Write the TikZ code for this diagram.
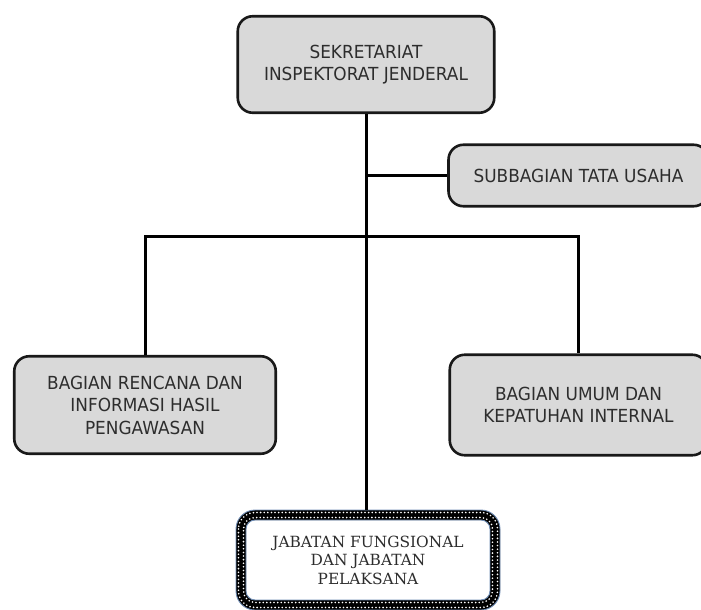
\documentclass[tikz,border=0pt]{standalone}
\usepackage{fontspec}
\setmainfont{DejaVu Sans}[FakeStretch=0.94]
\newfontfamily\serf{DejaVu Serif}
\usetikzlibrary{calc}
\definecolor{boxgray}{RGB}{217,217,217}
\definecolor{txt}{RGB}{45,45,45}
\definecolor{edgeblue}{RGB}{110,140,180}
\tikzset{
  unit/.style={draw=black!90, line width=2.6pt, fill=boxgray, rounded corners=15pt,
    text=txt, align=center, inner sep=0pt, font=\fontsize{18}{22.5}\selectfont},
  link/.style={line width=3pt, black},
  dots/.style={white, line width=1.8pt, line cap=round, dash pattern=on 0pt off 3.6pt},
}
\begin{document}
\begin{tikzpicture}[x=1pt,y=-1pt]
\useasboundingbox (0,0) rectangle (701,610);
\clip (0,0) rectangle (701,610);
\node[unit, minimum width=256.5pt, minimum height=96.5pt] (top) at (366,64.5)
  {SEKRETARIAT\\INSPEKTORAT JENDERAL};
\node[unit, minimum width=260pt, minimum height=61.5pt] (sub) at (578.5,175.5)
  {SUBBAGIAN TATA USAHA};
\node[unit, minimum width=261.5pt, minimum height=97.5pt] (left) at (145,405)
  {BAGIAN RENCANA DAN\\INFORMASI HASIL\\PENGAWASAN};
\node[unit, minimum width=257.5pt, minimum height=100.5pt] (right) at (578.5,405)
  {BAGIAN UMUM DAN\\KEPATUHAN INTERNAL};
\node[draw=black, line width=10pt, fill=white, rounded corners=14pt, outer sep=0pt,
  minimum width=254pt, minimum height=90pt, inner sep=0pt, align=center, text=txt,
  font=\serf\fontsize{15.4}{18.5}\selectfont] (bot) at (368,560)
  {JABATAN FUNGSIONAL\\DAN JABATAN\\PELAKSANA};
% dotted border pattern
\draw[dots, rounded corners=16.5pt]
  ($(bot.north west)+(-2.5,-2.5)$) rectangle ($(bot.south east)+(2.5,2.5)$);
\draw[dots, dash phase=1.8pt, rounded corners=11.5pt]
  ($(bot.north west)+(2.5,2.5)$) rectangle ($(bot.south east)+(-2.5,-2.5)$);
\draw[edgeblue, line width=0.9pt, rounded corners=19pt]
  ($(bot.north west)+(-5,-5)$) rectangle ($(bot.south east)+(5,5)$);
\draw[edgeblue, line width=0.9pt, rounded corners=9pt]
  ($(bot.north west)+(5,5)$) rectangle ($(bot.south east)+(-5,-5)$);
% connectors
\coordinate (bus) at (366,236);
\draw[link] (top.south) -- ($(top.south |- bot.north)+(0,-5)$);
\draw[link] (top.south |- sub.west) -- (sub.west);
\draw[link] (left.north) -- (left.north |- bus) -- (right.north |- bus) -- (right.north);
\end{tikzpicture}
\end{document}
